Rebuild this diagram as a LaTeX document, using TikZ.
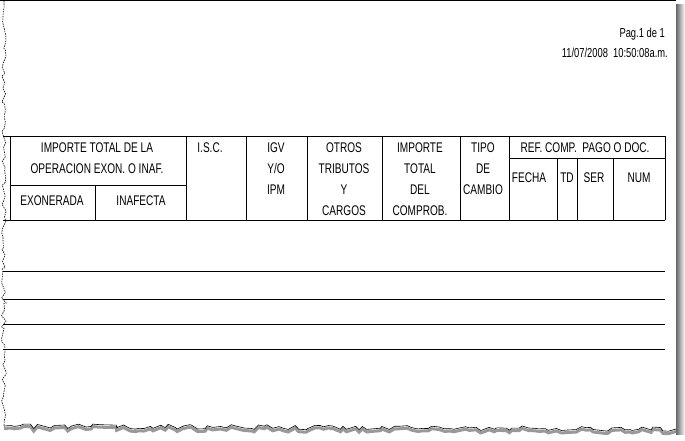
\documentclass[tikz,border=0pt]{standalone}
\usepackage{fontspec}
\setmainfont{Liberation Sans}[FakeStretch=0.72]
\usetikzlibrary{calc,decorations.pathmorphing}

\tikzset{
  hdr/.style={anchor=north, inner sep=0pt, align=center, font=\fontsize{14}{21}\selectfont},
  stamp/.style={anchor=north east, inner sep=0pt, font=\fontsize{13}{20}\selectfont},
  rule/.style={line width=0.9pt},
  torn/.style={decorate, decoration={random steps, segment length=5pt, amplitude=2.5pt}}
}

\begin{document}
\begin{tikzpicture}[x=1pt, y=-1pt]
\useasboundingbox (0,0) rectangle (685,441);
\pgfmathsetseed{11}

% hoja
\shade[left color=black!60, right color=white] (676,5) rectangle (685,434);
\draw[line width=1pt] (0,0.5) -- (676,0.5);
\draw[dash pattern=on 1.5pt off 1pt, line width=0.6pt, torn] (4,1) -- (4,426);
\draw[torn, line width=0.6pt, preaction={draw, black!40, line width=3pt, transform canvas={yshift=-2.5pt}}] (4,426) -- (676,429);

% cabecera
\node[stamp] (pag) at (665,28) {Pag.1 de 1};
\node[stamp] (fechahora) at (668,48) {11/07/2008\ \ 10:50:08a.m.};

% cuadro
\draw[rule] (3,136) -- (665,136);
\draw[rule] (3,220) -- (665,220);
\foreach \y in {271,299,324,349}
  \draw[rule] (3,\y) -- (665,\y);
\foreach \x in {10,186,246,307,382,460,509,665}
  \draw[rule] (\x,136) -- (\x,220);
\foreach \x in {557,577,613}
  \draw[rule] (\x,158) -- (\x,220);
\draw[rule] (10,185) -- (186,185);
\draw[rule] (95,185) -- (95,220);
\draw[rule] (509,158) -- (665,158);

\node[hdr] (imptotal) at (97,143) {IMPORTE TOTAL DE LA\\OPERACION EXON. O INAF.};
\node[hdr] (exon) at (52,196) {EXONERADA};
\node[hdr] (inaf) at (141,196) {INAFECTA};
\node[hdr] (isc) at (210,143) {I.S.C.};
\node[hdr] (igv) at (276,143) {IGV\\Y/O\\IPM};
\node[hdr] (otros) at (344,143) {OTROS\\TRIBUTOS\\Y\\CARGOS};
\node[hdr] (impcomp) at (420,143) {IMPORTE\\TOTAL\\DEL\\COMPROB.};
\node[hdr] (tipo) at (483,143) {TIPO\\DE\\CAMBIO};
\node[hdr] (refcomp) at (585,143) {REF. COMP.\ \ PAGO O DOC.};
\node[hdr] (fecha) at (529,173) {FECHA};
\node[hdr] (td) at (567,173) {TD};
\node[hdr] (ser) at (594,173) {SER};
\node[hdr] (num) at (639,173) {NUM};
\end{tikzpicture}
\end{document}
